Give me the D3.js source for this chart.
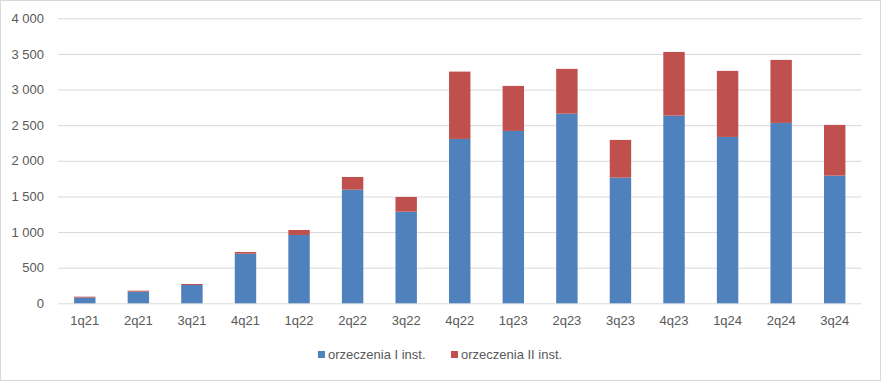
<!DOCTYPE html>
<html><head><meta charset="utf-8">
<script src="https://cdn.jsdelivr.net/npm/d3@7"></script>
<style>body{margin:0;background:#fff}svg{display:block}</style>
</head><body><svg id="c" width="881" height="381"></svg>
<script>
const categories = ["1q21","2q21","3q21","4q21","1q22","2q22","3q22","4q22","1q23","2q23","3q23","4q23","1q24","2q24","3q24"];
const firstInst = [80,163,257,696,959,1595,1286,2307,2419,2662,1764,2634,2335,2532,1792];
const secondInst = [13,14,14,24,70,178,206,945,632,628,529,894,927,884,712];
const seriesNames = ["orzeczenia I inst.","orzeczenia II inst."];
const colors = ["#4f81bd","#c0504d"];
const yTicks = [0,500,1000,1500,2000,2500,3000,3500,4000];

const svg = d3.select("#c");
const W = 881, H = 381;
svg.append("rect").attr("x",0.5).attr("y",0.5).attr("width",W-1).attr("height",H-1)
  .attr("fill","#fff").attr("stroke","#d9d9d9");

const m = {left:58, right:20, top:18.3, bottom:77.7};
const x = d3.scaleBand().domain(categories).range([m.left, 861.5]).paddingInner(0.6).paddingOuter(0.3);
const y = d3.scaleLinear().domain([0,4000]).range([303.3, 18.3]);

const fmt = v => d3.format(",")(v).replace(/,/g, " ");
const font = "'Liberation Sans', Arial, sans-serif";

// gridlines
const yAxis = d3.axisLeft(y).tickValues(yTicks).tickSize(-(861.5-m.left)).tickFormat(fmt).tickPadding(14);
const gy = svg.append("g").attr("transform",`translate(${m.left},0)`).call(yAxis);
gy.select(".domain").remove();
gy.selectAll(".tick line").attr("stroke","#d9d9d9").attr("stroke-width",1);
gy.selectAll(".tick text").attr("fill","#595959").attr("font-size","13px").attr("font-family",font);

// stacked bars
const data = categories.map((c,i)=>({cat:c, a:firstInst[i], b:secondInst[i]}));
const stack = d3.stack().keys(["a","b"])(data);
svg.append("g").selectAll("g").data(stack).join("g")
  .attr("fill",(d,i)=>colors[i])
  .selectAll("rect").data(d=>d).join("rect")
  .attr("x",d=>x(d.data.cat))
  .attr("width",x.bandwidth())
  .attr("y",d=>y(d[1]))
  .attr("height",d=>y(d[0])-y(d[1]));

// x axis
const xAxis = d3.axisBottom(x).tickSize(0).tickPadding(12);
const gx = svg.append("g").attr("transform",`translate(0,${y(0)})`).call(xAxis);
gx.select(".domain").remove();
gx.selectAll(".tick text").attr("fill","#595959").attr("font-size","13px").attr("font-family",font);

// legend
const leg = svg.append("g").attr("font-family",font).attr("font-size","13px");
const items = [{x:318, n:seriesNames[0], c:colors[0]},{x:451, n:seriesNames[1], c:colors[1]}];
items.forEach(it=>{
  leg.append("rect").attr("x",it.x).attr("y",351).attr("width",7).attr("height",7).attr("fill",it.c);
  leg.append("text").attr("x",it.x+10).attr("y",359).attr("fill","#595959").text(it.n);
});
</script></body></html>
